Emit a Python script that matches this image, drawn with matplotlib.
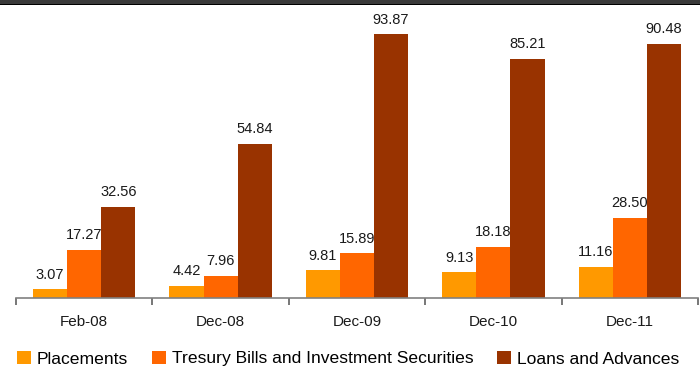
import numpy as np
import matplotlib.pyplot as plt
from matplotlib.patches import Rectangle

plt.rcParams['font.family'] = ['Liberation Sans', 'DejaVu Sans']

periods = ['Feb-08', 'Dec-08', 'Dec-09', 'Dec-10', 'Dec-11']
placements = [3.07, 4.42, 9.81, 9.13, 11.16]
treasury = [17.27, 7.96, 15.89, 18.18, 28.50]
loans = [32.56, 54.84, 93.87, 85.21, 90.48]

series = [
    ('Placements', placements, '#FF9900'),
    ('Tresury Bills and Investment Securities', treasury, '#FF6600'),
    ('Loans and Advances', loans, '#993300'),
]

fig = plt.figure(figsize=(7, 3.68), dpi=100)
ax = fig.add_axes([16 / 700, 70 / 368, 682 / 700, 292 / 368])

x = np.arange(len(periods))
width = 0.25
for i, (name, vals, color) in enumerate(series):
    pos = x + (i - 1) * width
    bars = ax.bar(pos, vals, width, color=color, label=name, zorder=2)
    for b, v in zip(bars, vals):
        ax.annotate(f'{v:.2f}', (b.get_x() + b.get_width() / 2, v),
                    xytext=(0, 5.5), textcoords='offset points',
                    ha='center', va='bottom', fontsize=10.5, color='#1a1a1a')

ax.set_xlim(-0.5, len(periods) - 0.5)
ax.set_ylim(0, 104)
ax.set_yticks([])
for side in ['top', 'right', 'left']:
    ax.spines[side].set_visible(False)
ax.spines['bottom'].set_color('#808080')
ax.spines['bottom'].set_linewidth(1.2)

ax.set_xticks(x)
ax.set_xticklabels(periods, fontsize=11, color='#1a1a1a')
ax.tick_params(axis='x', which='major', length=0, pad=12)
ax.set_xticks(np.arange(len(periods) + 1) - 0.5, minor=True)
ax.tick_params(axis='x', which='minor', length=5, width=1.2, color='#606060', direction='out')

fig.legend(loc='lower left', bbox_to_anchor=(6 / 700, -9 / 368), ncol=3,
           frameon=False, fontsize=12.6, handlelength=0.8, handleheight=0.8,
           handletextpad=0.35, columnspacing=1.35, borderaxespad=0.2)

# dark band across the top edge
fig.patches.append(Rectangle((0, 364 / 368), 1, 4 / 368, transform=fig.transFigure,
                             facecolor='#3a3a3a', edgecolor='none'))
fig.patches.append(Rectangle((0, 363 / 368), 1, 1.2 / 368, transform=fig.transFigure,
                             facecolor='#000000', edgecolor='none'))

fig.savefig('out.png', dpi=100)
